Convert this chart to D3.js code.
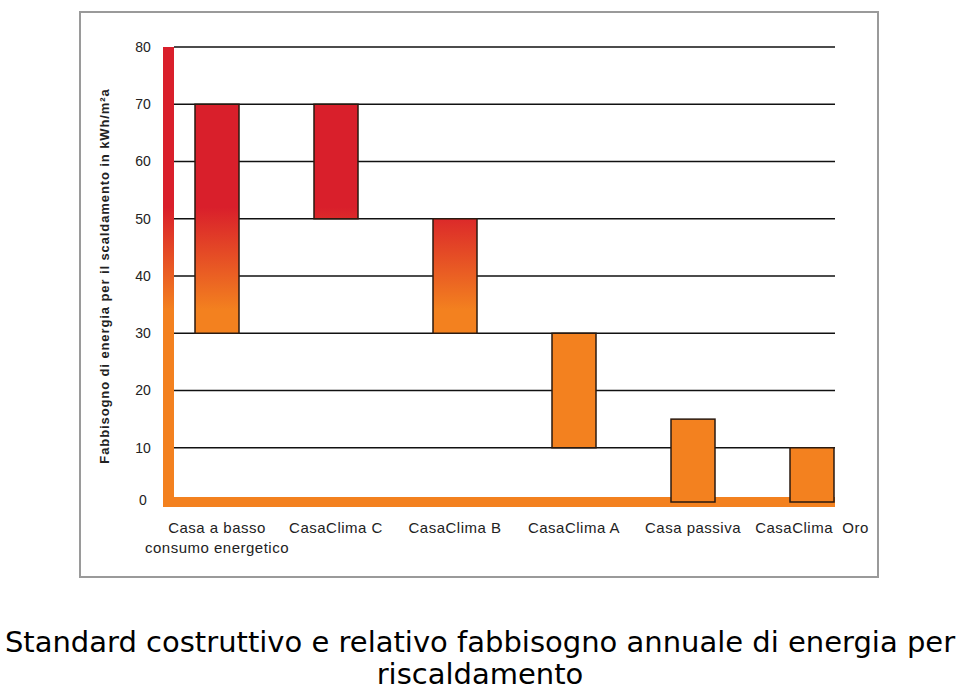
<!DOCTYPE html>
<html>
<head>
<meta charset="utf-8">
<script src="https://cdn.jsdelivr.net/npm/d3@7"></script>
<style>
  body { margin: 0; background: #fff; }
  svg { display: block; }
  .tick-label { font-family: 'Liberation Sans', Arial, sans-serif; font-size: 14px; fill: #222; }
  .cat-label { font-family: 'Liberation Sans', Arial, sans-serif; font-size: 15px; letter-spacing: 0.5px; fill: #222; }
  .y-title { font-family: 'Liberation Sans', Arial, sans-serif; font-size: 13px; letter-spacing: 0.9px; font-weight: bold; fill: #222; }
  .caption { font-family: 'DejaVu Sans', Verdana, sans-serif; font-size: 29px; fill: #000; }
</style>
</head>
<body>
<script>
// categories and floating ranges (kWh/m²a)
var categories = ['Casa a basso consumo energetico', 'CasaClima C', 'CasaClima B', 'CasaClima A', 'Casa passiva', 'CasaClima Oro'];
var catLines = [['Casa a basso', 'consumo energetico'], ['CasaClima C'], ['CasaClima B'], ['CasaClima A'], ['Casa passiva'], ['CasaClima  Oro']];
var lowValues = [30, 50, 30, 10, 0, 0];
var highValues = [70, 70, 50, 30, 15, 10];
var yTicks = [0, 10, 20, 30, 40, 50, 60, 70, 80];

var width = 960,
  height = 691,
  svg = d3.select('body').append('svg')
    .attr('width', width)
    .attr('height', height);

var y = d3.scaleLinear().domain([0, 80]).range([505, 47]);
var x = d3.scaleBand().domain(categories).range([157.5, 871.5]).padding(0);
var barW = 44;
var gridX0 = 174, gridX1 = 835;

// red -> orange gradient tied to the value axis
var grad = svg.append('defs').append('linearGradient')
  .attr('id', 'heat')
  .attr('gradientUnits', 'userSpaceOnUse')
  .attr('x1', 0).attr('x2', 0)
  .attr('y1', y(52)).attr('y2', y(34));
grad.append('stop').attr('offset', '0%').attr('stop-color', '#d91f2b');
grad.append('stop').attr('offset', '100%').attr('stop-color', '#f3811f');

// frame
svg.append('rect')
  .attr('x', 80).attr('y', 12)
  .attr('width', 798).attr('height', 565)
  .attr('fill', 'none')
  .attr('stroke', '#9a9a9a')
  .attr('stroke-width', 2);

// grid lines
svg.selectAll('.grid')
  .data(yTicks.filter(function (d) { return d > 0; }))
  .enter()
  .append('line')
  .attr('class', 'grid')
  .attr('x1', gridX0).attr('x2', gridX1)
  .attr('y1', function (d) { return y(d); })
  .attr('y2', function (d) { return y(d); })
  .attr('stroke', '#111')
  .attr('stroke-width', 1.5);

// axis bars
svg.append('rect')
  .attr('x', 163).attr('y', y(80))
  .attr('width', 11).attr('height', y(0) + 2 - y(80))
  .attr('fill', 'url(#heat)');
svg.append('rect')
  .attr('x', 163).attr('y', y(0) - 8)
  .attr('width', gridX1 - 163).attr('height', 10)
  .attr('fill', '#f3811f');

// floating bars
svg.selectAll('.bar')
  .data(categories)
  .enter()
  .append('rect')
  .attr('class', 'bar')
  .attr('x', function (d) { return x(d) + (x.bandwidth() - barW) / 2; })
  .attr('y', function (d, i) { return y(highValues[i]); })
  .attr('width', barW)
  .attr('height', function (d, i) {
    var h = y(lowValues[i]) - y(highValues[i]);
    return lowValues[i] === 0 ? h - 3 : h;
  })
  .attr('fill', 'url(#heat)')
  .attr('stroke', '#2a1a10')
  .attr('stroke-width', 1.5);

// tick labels
svg.selectAll('.tick-label')
  .data(yTicks)
  .enter()
  .append('text')
  .attr('class', 'tick-label')
  .attr('x', 143)
  .attr('y', function (d) { return d === 0 ? y(d) - 5 : y(d); })
  .attr('dy', '0.35em')
  .attr('text-anchor', 'middle')
  .text(function (d) { return d; });

// y title
svg.append('text')
  .attr('class', 'y-title')
  .attr('transform', 'translate(109, 276) rotate(-90)')
  .attr('text-anchor', 'middle')
  .text('Fabbisogno di energia per il scaldamento in kWh/m²a');

// category labels
var cat = svg.selectAll('.cat')
  .data(categories)
  .enter()
  .append('text')
  .attr('class', 'cat-label')
  .attr('text-anchor', 'middle')
  .attr('x', function (d) { return x(d) + x.bandwidth() / 2; })
  .attr('y', 533);
cat.selectAll('tspan')
  .data(function (d, i) { return catLines[i]; })
  .enter()
  .append('tspan')
  .attr('x', function () { var p = d3.select(this.parentNode).datum(); return x(p) + x.bandwidth() / 2; })
  .attr('dy', function (d, i) { return i === 0 ? 0 : 20; })
  .style('white-space', 'pre')
  .text(function (d) { return d; });

// caption
var caption = ['Standard costruttivo e relativo fabbisogno annuale di energia per', 'riscaldamento'];
svg.selectAll('.caption')
  .data(caption)
  .enter()
  .append('text')
  .attr('class', 'caption')
  .attr('x', 480)
  .attr('y', function (d, i) { return 652 + i * 32; })
  .attr('text-anchor', 'middle')
  .text(function (d) { return d; });
</script>
</body>
</html>
